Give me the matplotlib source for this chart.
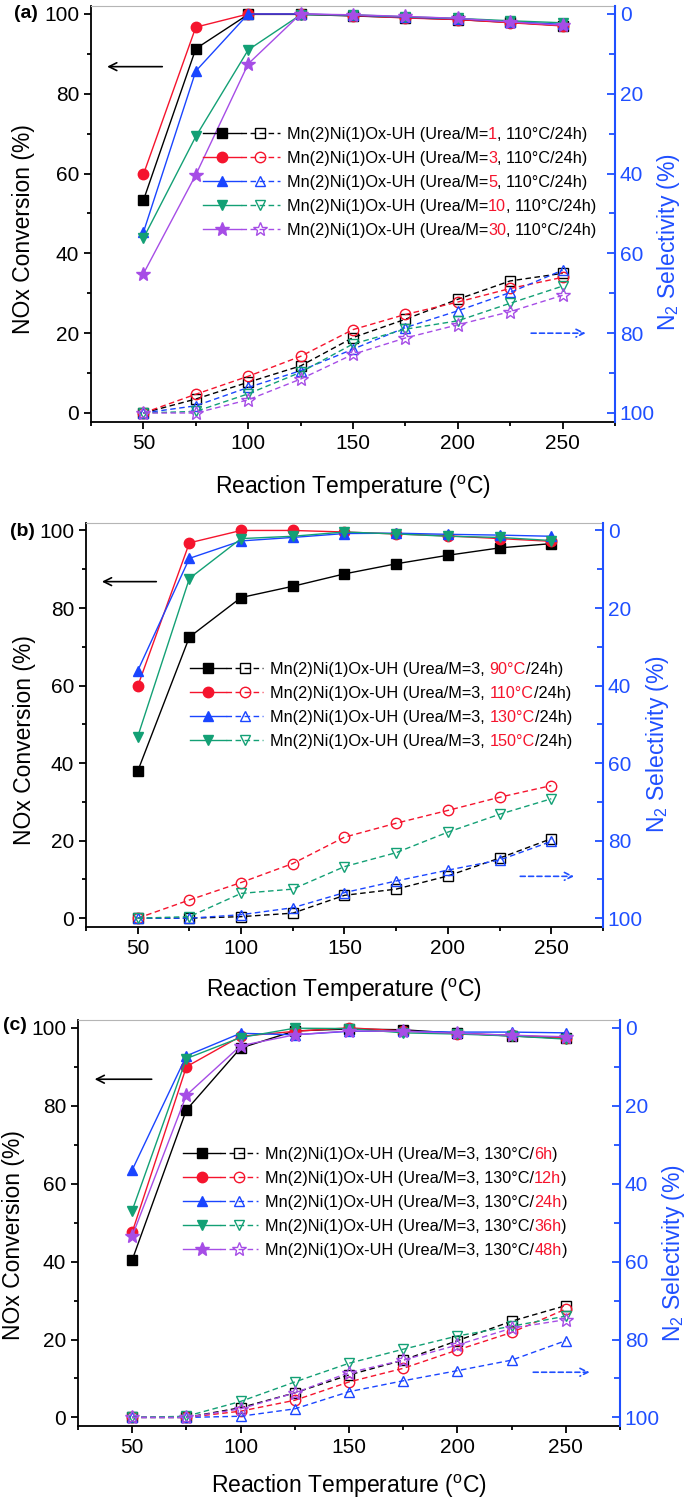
import matplotlib
matplotlib.use("Agg")
import matplotlib.pyplot as plt
from matplotlib.legend_handler import HandlerTuple
from matplotlib.ticker import MultipleLocator

plt.rcParams['font.family'] = ['Liberation Sans', 'DejaVu Sans']
plt.rcParams['mathtext.default'] = 'regular'

temps = [50, 75, 100, 125, 150, 175, 200, 225, 250]

colors = ['#000000', '#f5142d', '#1a45ff', '#13a075', '#a64de6']
markers = ['s', 'o', '^', 'v', '*']
axis_blue = '#1f4fff'
red_txt = '#f5142d'

# (a) different urea / metal ratio, 110 C / 24 h
a_red = ['1', '3', '5', '10', '30']
a_nox = [
    [53.3, 91.3, 99.9, 99.9, 99.5, 99.1, 98.6, 97.9, 97.1],
    [59.8, 96.7, 100.0, 100.0, 99.6, 99.0, 98.6, 97.8, 97.0],
    [45.3, 85.7, 100.0, 100.0, 99.7, 99.2, 98.8, 98.1, 97.4],
    [43.8, 69.3, 91.0, 99.8, 99.8, 99.3, 98.9, 98.3, 97.8],
    [34.9, 59.7, 87.5, 100.0, 99.8, 99.4, 98.9, 98.0, 97.2],
]
a_n2 = [
    [100, 96.5, 92.3, 88.2, 81.1, 76.5, 71.5, 66.9, 65.0],
    [100, 95.3, 90.8, 85.8, 79.1, 75.3, 72.2, 68.8, 66.0],
    [100, 98.2, 93.6, 89.4, 84.0, 78.6, 74.4, 69.8, 64.2],
    [100, 99.6, 95.2, 89.8, 82.7, 79.0, 76.9, 72.5, 68.2],
    [100, 100, 96.7, 91.5, 85.3, 81.2, 77.9, 74.6, 70.5],
]

# (b) different hydrothermal temperature, urea/M = 3, 24 h
b_red = ['90°C', '110°C', '130°C', '150°C']
b_nox = [
    [37.9, 72.5, 82.7, 85.6, 88.8, 91.4, 93.6, 95.5, 96.6],
    [59.8, 96.8, 100.0, 100.0, 99.6, 99.1, 98.6, 97.9, 97.2],
    [63.8, 92.8, 97.3, 98.2, 99.2, 99.3, 99.0, 98.8, 98.5],
    [46.8, 87.6, 97.9, 98.5, 99.6, 99.1, 98.5, 98.2, 97.4],
]
b_n2 = [
    [100, 100, 99.6, 98.7, 94.1, 92.5, 89.1, 84.5, 79.5],
    [100, 95.3, 90.8, 85.9, 79.1, 75.5, 72.2, 68.8, 65.8],
    [100, 100, 99.1, 97.3, 93.4, 90.4, 87.6, 85.0, 80.2],
    [100, 99.6, 93.6, 92.5, 86.7, 83.1, 77.8, 73.2, 69.2],
]

# (c) different hydrothermal time, urea/M = 3, 130 C
c_red = ['6h', '12h', '24h', '36h', '48h']
c_nox = [
    [40.4, 78.9, 94.8, 99.2, 99.7, 99.5, 98.6, 97.9, 97.3],
    [47.5, 90.0, 97.8, 99.1, 100.0, 99.2, 98.5, 98.1, 97.4],
    [63.5, 92.8, 98.6, 98.2, 99.1, 99.1, 98.9, 98.9, 98.7],
    [53.1, 92.1, 97.5, 99.9, 99.8, 98.7, 98.4, 97.9, 97.1],
    [46.5, 82.7, 95.4, 98.2, 99.2, 99.1, 98.6, 98.1, 97.7],
]
c_n2 = [
    [100, 100, 97.5, 93.7, 89.1, 85.3, 80.3, 75.3, 71.3],
    [100, 100, 98.4, 95.6, 90.9, 87.4, 82.7, 78.2, 72.2],
    [100, 100, 99.7, 97.8, 93.4, 90.6, 88.0, 85.3, 80.3],
    [100, 99.7, 95.9, 90.9, 86.1, 82.5, 79.1, 76.6, 74.0],
    [100, 100, 97.8, 93.7, 88.5, 85.3, 81.4, 77.1, 74.9],
]

fig = plt.figure(figsize=(6.9, 15.02), dpi=100)


def panel(rect, tag, nox, n2, prefix, reds, tail, gap, leg_anchor, hlen,
          ylab_pos, y2lab_pos, xlab_y, blue_arrow_y):
    ax = fig.add_axes(rect)
    ax2 = ax.twinx()
    handles = []
    for i in range(len(nox)):
        c = colors[i]
        ms = 10 if markers[i] == '*' else 7.5
        l1, = ax.plot(temps, nox[i], color=c, marker=markers[i], ms=ms,
                      lw=1, mfc=c, mec=c, clip_on=False, zorder=3)
        l2, = ax2.plot(temps, n2[i], color=c, marker=markers[i], ms=ms,
                       lw=1, ls=(0, (4, 2.5)), mfc='none', mec=c, mew=1,
                       clip_on=False)
        handles.append((l1, l2))

    ax.set_xlim(25, 275)
    ax.set_ylim(-2.2, 102)
    ax2.set_ylim(102.2, -2)
    ax.xaxis.set_major_locator(MultipleLocator(50))
    ax.xaxis.set_minor_locator(MultipleLocator(25))
    ax.yaxis.set_major_locator(MultipleLocator(20))
    ax.yaxis.set_minor_locator(MultipleLocator(10))
    ax2.yaxis.set_major_locator(MultipleLocator(20))
    ax2.yaxis.set_minor_locator(MultipleLocator(10))

    ax.tick_params(which='both', direction='out', width=1.3, labelsize=15,
                   top=False, right=False)
    ax.tick_params(which='major', length=5)
    ax.tick_params(which='minor', length=3)
    ax2.tick_params(which='both', direction='in', width=1.3, labelsize=15,
                    colors=axis_blue)
    ax2.tick_params(which='major', length=6)
    ax2.tick_params(which='minor', length=4)

    for s in ['left', 'bottom']:
        ax.spines[s].set_linewidth(1.3)
    ax.spines['right'].set_visible(False)
    ax.spines['top'].set_color('#b5b5b5')
    for s in ['left', 'bottom', 'top']:
        ax2.spines[s].set_visible(False)
    ax2.spines['right'].set_color(axis_blue)
    ax2.spines['right'].set_linewidth(1.5)

    ax.set_ylabel('NOx Conversion (%)', fontsize=16.5)
    ax2.set_ylabel('N$_2$ Selectivity (%)', fontsize=16.5, color=axis_blue)
    ax.set_xlabel('Reaction Temperature ($^{o}$C)', fontsize=16.5)
    ax.yaxis.set_label_coords(ylab_pos[0], ylab_pos[1])
    ax2.yaxis.set_label_coords(y2lab_pos[0], y2lab_pos[1])
    ax.xaxis.set_label_coords(0.5, xlab_y)
    ax.yaxis.label.set_va('center')
    ax2.yaxis.label.set_va('center')
    ax.xaxis.label.set_va('center')

    # arrows showing which axis belongs to which set of curves
    ax.annotate('', xy=(32.7, 86.8), xytext=(59, 86.8),
                arrowprops=dict(arrowstyle='->', color='black', lw=1.2,
                                mutation_scale=14, shrinkA=0, shrinkB=0))
    ax.annotate('', xy=(261, blue_arrow_y), xytext=(235, blue_arrow_y),
                arrowprops=dict(arrowstyle='->', color=axis_blue, lw=1.2,
                                ls=(0, (3, 2)), mutation_scale=14,
                                shrinkA=0, shrinkB=0))

    fs = 11.7
    leg = ax.legend(handles, [prefix] * len(reds),
                    handler_map={tuple: HandlerTuple(ndivide=None, pad=0)},
                    loc='upper left', bbox_to_anchor=leg_anchor,
                    frameon=False, fontsize=fs, borderpad=0, borderaxespad=0,
                    handlelength=hlen, handletextpad=0.45, labelspacing=0.55)
    leg.set_zorder(5)
    # coloured parts of each legend entry, chained after the legend text
    for txt, r in zip(leg.get_texts(), reds):
        t1 = ax.annotate(r, xy=(1, 0), xycoords=txt, xytext=(gap, 0),
                         textcoords='offset points', va='bottom', ha='left',
                         color=red_txt, fontsize=fs, zorder=6)
        ax.annotate(tail, xy=(1, 0), xycoords=t1, va='bottom', ha='left',
                    color='black', fontsize=fs, zorder=7)

    fig.text(tag[1], tag[2], tag[0], fontsize=14, fontweight='bold',
             va='center', ha='left')
    return ax


panel([0.1319, 0.7192, 0.7594, 0.2768], ('(a)', 0.02, 1 - 14 / 1502),
      a_nox, a_n2, 'Mn(2)Ni(1)Ox-UH (Urea/M=', a_red, ', 110°C/24h)', 0,
      (0.214, 0.709), 4.7, (-0.129, 0.464), (1.103, 0.432), -0.157, 20)

panel([0.1246, 0.3830, 0.7493, 0.2690], ('(b)', 0.015, 1 - 532 / 1502),
      b_nox, b_n2, 'Mn(2)Ni(1)Ox-UH (Urea/M=3,', b_red, '/24h)', 3.2,
      (0.201, 0.655), 4.5, (-0.119, 0.463), (1.105, 0.452), -0.157, 10.8)

panel([0.1130, 0.0506, 0.7855, 0.2703], ('(c)', 0.005, 1 - 1026 / 1502),
      c_nox, c_n2, 'Mn(2)Ni(1)Ox-UH (Urea/M=3, 130°C/', c_red, ')', 0,
      (0.194, 0.687), 4.6, (-0.119, 0.470), (1.098, 0.426), -0.150, 11.6)

fig.savefig('out.png', dpi=100)
